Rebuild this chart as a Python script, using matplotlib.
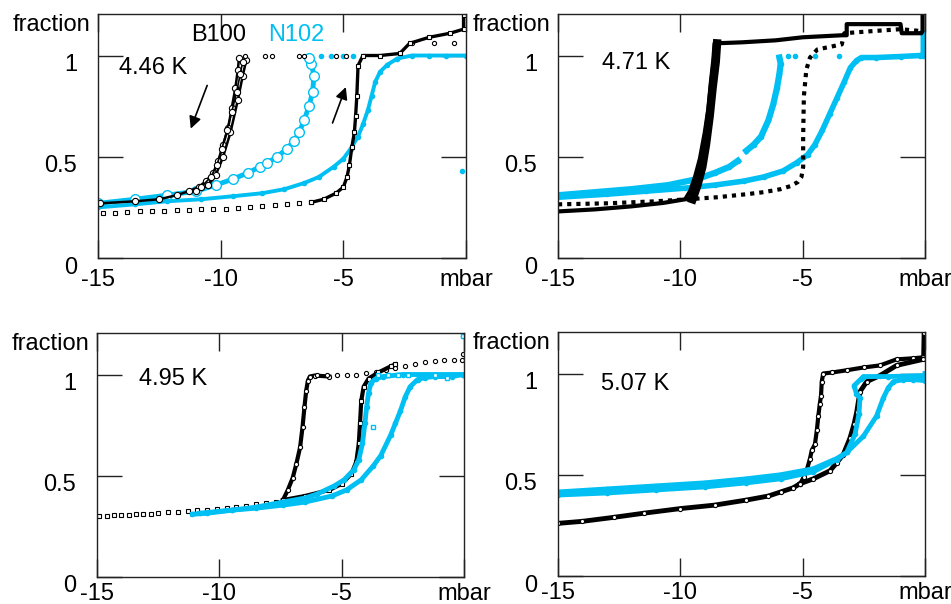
import numpy as np
import matplotlib
matplotlib.use("Agg")
import matplotlib.pyplot as plt
from matplotlib.transforms import ScaledTranslation

plt.rcParams['font.family'] = ['Liberation Sans', 'DejaVu Sans']

CYAN = '#00BFF2'
nan = np.nan

# ---------------- data ----------------
temps = ['4.46 K', '4.71 K', '4.95 K', '5.07 K']
temp_label_x = [-14.14, -13.2, -13.28, -13.24]
temp_label_y = [0.94, 0.965, 0.98, 0.95]
xticks = [-15, -10, -5, 0]
xticklabels = ['-15', '-10', '-5', 'mbar']
yticks = [0, 0.5, 1]
yticklabels = ['0', '0.5', '1']

# Panel 1: 4.46 K
p1_b_dec_x = [-14.9, -13.5, -12.5, -11.8, -11.3, -10.9, -10.6, -10.3, -10.1, -9.9, -9.7, -9.55, -9.4, -9.3, -9.25]
p1_b_dec_y = [0.27, 0.28, 0.29, 0.31, 0.33, 0.35, 0.38, 0.42, 0.48, 0.56, 0.64, 0.74, 0.84, 0.93, 0.99]
p1_b_dec2_x = [-11.0, -10.5, -10.2, -9.9, -9.6, -9.3, -9.1, -8.95]
p1_b_dec2_y = [0.33, 0.36, 0.41, 0.50, 0.62, 0.78, 0.90, 0.98]
p1_b_dec3_x = [-10.8, -10.4, -10.15, -9.95, -9.75, -9.55, -9.35, -9.2, -9.1]
p1_b_dec3_y = [0.35, 0.40, 0.46, 0.54, 0.63, 0.72, 0.82, 0.91, 0.97]
p1_b_top_x = [-9.0, -8.2, -7.9, -6.8, -6.6, -5.3, -4.9, -2.2, -1.3, -0.5]
p1_b_top_y = [1.0, 1.0, 1.0, 1.0, 1.0, 1.0, 1.0, 1.06, 1.06, 1.06]
p1_b_asc_sp_x = [-14.8, -14.3, -13.8, -13.3, -12.8, -12.3, -11.8, -11.3, -10.8, -10.3, -9.8, -9.3, -8.8, -8.3, -7.8, -7.3, -6.8, -6.3]
p1_b_asc_sp_y = [0.22, 0.22, 0.225, 0.23, 0.23, 0.23, 0.235, 0.235, 0.24, 0.24, 0.24, 0.245, 0.25, 0.255, 0.26, 0.265, 0.27, 0.275]
p1_b_asc_x = [-6.3, -5.8, -5.3, -5.0, -4.85, -4.75, -4.65, -4.55, -4.5, -4.45, -4.4, -4.2, -3.5, -2.7, -2.3, -1.5, -0.65, -0.1, -0.1]
p1_b_asc_y = [0.275, 0.29, 0.32, 0.35, 0.40, 0.46, 0.55, 0.62, 0.70, 0.80, 0.95, 1.0, 1.0, 1.01, 1.06, 1.09, 1.11, 1.13, 1.2]
p1_c_dec_x = [-15, -13.5, -12.2, -11, -10.2, -9.5, -8.9, -8.4, -8.1, -7.7, -7.3, -7.0, -6.8, -6.6, -6.4, -6.25, -6.2, -6.3, -6.4]
p1_c_dec_y = [0.27, 0.29, 0.31, 0.33, 0.36, 0.39, 0.42, 0.45, 0.47, 0.50, 0.54, 0.58, 0.62, 0.68, 0.75, 0.82, 0.90, 0.96, 0.99]
p1_c_asc_x = [-15, -13.5, -12.2, -10.8, -9.5, -8.3, -7.4, -6.6, -6.0, -5.4, -5.0, -4.7, -4.4, -4.2, -4.0, -3.85, -3.7, -3.5, -3.2, -2.8, -2.2, -1.5, -0.8, 0]
p1_c_asc_y = [0.25, 0.265, 0.28, 0.29, 0.305, 0.32, 0.34, 0.37, 0.40, 0.45, 0.49, 0.54, 0.60, 0.66, 0.73, 0.80, 0.87, 0.92, 0.955, 0.985, 1.0, 1.0, 1.0, 1.0]
p1_c_top_x = [-5.9, -5.5, -5.0, -4.6, -0.15]
p1_c_top_y = [1.0, 1.0, 1.0, 1.0, 0.43]

# Panel 2: 4.71 K
p2_b_dec_x = [-15, -13.5, -12, -10.7, -9.8, -9.6, -9.4, -9.2, -9.0, -8.85, -8.75, -8.65, -8.6, -7.5, -6.1, -5.0, -3.4, -3.2, -3.2, -1.0, -0.95, -0.15, -0.1, -0.1]
p2_b_dec_y = [0.23, 0.24, 0.255, 0.272, 0.29, 0.33, 0.40, 0.49, 0.62, 0.74, 0.87, 0.98, 1.06, 1.065, 1.075, 1.09, 1.10, 1.10, 1.155, 1.155, 1.11, 1.11, 1.12, 1.21]
p2_b_dec2_x = [-9.5, -9.3, -9.1, -8.95, -8.8, -8.68, -8.55, -8.5]
p2_b_dec2_y = [0.29, 0.36, 0.45, 0.56, 0.70, 0.84, 0.97, 1.06]
p2_b_asc_x = [-15, -13, -11, -9.7, -8.5, -7.3, -6.6, -5.9, -5.5, -5.2, -5.05, -4.98, -4.98, -4.95, -4.85, -4.7, -4.4, -3.4, -3.3, -2.2, -1.0, -0.1]
p2_b_asc_y = [0.265, 0.27, 0.28, 0.29, 0.30, 0.315, 0.325, 0.34, 0.355, 0.375, 0.40, 0.45, 0.60, 0.80, 0.93, 0.99, 1.03, 1.055, 1.11, 1.12, 1.13, 1.12]
p2_c_dec_x = [-15, -13.5, -12, -10.5, -9.3, -8.6, -8.0, -7.65, nan, -7.3, -7.0, -6.7, -6.4, -6.2, -6.05, -5.95, -5.9, -5.95]
p2_c_dec_y = [0.31, 0.325, 0.34, 0.36, 0.39, 0.42, 0.45, 0.48, nan, 0.53, 0.56, 0.60, 0.68, 0.76, 0.84, 0.91, 0.96, 0.99]
p2_c_asc_x = [-15, -13, -11.4, -9.8, -8.6, -7.4, -6.6, -5.8, -5.25, -4.8, -4.5, -4.2, -3.9, -3.6, -3.3, -3.05, -2.8, -2.6, -2.0, -1.0, -0.2, -0.07, -0.07]
p2_c_asc_y = [0.30, 0.315, 0.33, 0.345, 0.36, 0.38, 0.40, 0.43, 0.47, 0.51, 0.56, 0.63, 0.71, 0.79, 0.87, 0.94, 0.975, 0.99, 0.99, 0.995, 1.0, 1.0, 1.11]
p2_c_top_x = [-5.6, -5.3, -4.5, -3.5]
p2_c_top_y = [1.0, 1.0, 1.0, 1.0]

# Panel 3: 4.95 K
p3_b_sp_x = [-14.9, -14.6, -14.3, -14, -13.7, -13.4, -13.1, -12.8, -12.5, -12.1, -11.7, -11.3, -10.9, -10.5, -10.1, -9.7, -9.3, -8.9, -8.5, -8.1, -7.7, -7.4]
p3_b_sp_y = [0.30, 0.30, 0.305, 0.305, 0.305, 0.31, 0.31, 0.31, 0.315, 0.32, 0.32, 0.325, 0.33, 0.33, 0.335, 0.34, 0.345, 0.35, 0.36, 0.365, 0.37, 0.38]
p3_b_dec_x = [-7.4, -7.2, -7.0, -6.85, -6.7, -6.6, -6.52, -6.45, -6.38, -6.3, -6.1, -5.5]
p3_b_dec_y = [0.38, 0.43, 0.49, 0.56, 0.64, 0.74, 0.84, 0.92, 0.97, 0.99, 0.995, 0.99]
p3_b_top_x = [-6.0, -5.6, -5.2, -4.8, -4.4, -4.0, -3.6, -3.2, -2.8, -2.4, -2.0, -1.6, -1.2, -0.8, -0.4, -0.1, -0.05, -0.05]
p3_b_top_y = [1.0, 1.0, 1.0, 1.0, 1.0, 1.005, 1.01, 1.02, 1.03, 1.04, 1.05, 1.06, 1.065, 1.07, 1.07, 1.07, 1.1, 1.19]
p3_b_asc_x = [-7.4, -6.5, -5.5, -5.0, -4.6, -4.4, -4.3, -4.25, -4.2, -4.1, -3.9, -3.5, -3.0, -2.8]
p3_b_asc_y = [0.38, 0.40, 0.43, 0.46, 0.51, 0.57, 0.66, 0.76, 0.87, 0.94, 0.98, 1.01, 1.04, 1.05]
p3_c_dec_x = [-11.1, -10.5, -9.5, -8.5, -7.4, -6.5, -6.0, -5.3, -4.9, -4.5, -4.3, -4.15, -4.05, -3.98, -3.9, -3.8, -3.6, -3.3, -2.5, -1.5, -0.5, -0.03]
p3_c_dec_y = [0.31, 0.315, 0.33, 0.345, 0.37, 0.39, 0.41, 0.45, 0.48, 0.53, 0.58, 0.66, 0.76, 0.84, 0.91, 0.96, 0.98, 0.99, 1.0, 1.0, 1.0, 1.0]
p3_c_asc_x = [-10.8, -9.5, -8.5, -7.4, -6.5, -5.4, -4.8, -4.2, -3.7, -3.4, -3.0, -2.8, -2.6, -2.4, -2.2, -1.9, -1.6, -1.2, -0.5, -0.03]
p3_c_asc_y = [0.315, 0.33, 0.34, 0.355, 0.37, 0.40, 0.43, 0.48, 0.55, 0.60, 0.70, 0.76, 0.82, 0.89, 0.94, 0.975, 0.985, 0.99, 0.99, 1.0]
p3_c_top_x = [-3.5, -3.1, -2.7, -2.3, -1.2, -0.7, -3.7, -0.03]
p3_c_top_y = [1.0, 1.0, 1.0, 1.0, 1.0, 0.985, 0.74, 1.19]

# Panel 4: 5.07 K
p4_b_low_x = [-15, -14, -12.7, -11.5, -10.0, -8.6, -7.3, -6.4, -5.9, -5.4, -5.1]
p4_b_low_y = [0.26, 0.27, 0.29, 0.31, 0.333, 0.35, 0.375, 0.395, 0.415, 0.435, 0.456]
p4_b_dec_x = [-5.1, -4.95, -4.84, -4.7, -4.63, -4.5, -4.42, -4.36, -4.3, -4.25, -4.22, -4.16, -3.8, -3.2, -2.5, -1.84, -1.16, -0.5, -0.07, -0.05]
p4_b_dec_y = [0.456, 0.49, 0.52, 0.58, 0.62, 0.65, 0.72, 0.79, 0.85, 0.89, 0.96, 1.0, 1.005, 1.016, 1.03, 1.04, 1.07, 1.075, 1.08, 1.2]
p4_b_asc_x = [-5.1, -4.56, -3.88, -3.6, -3.34, -3.07, -2.9, -2.79, -2.66, -2.38, -1.84, -1.16, -0.07]
p4_b_asc_y = [0.456, 0.48, 0.52, 0.56, 0.60, 0.68, 0.75, 0.81, 0.91, 0.96, 0.99, 1.04, 1.07]
p4_c_dec_x = [-15, -13, -11, -9, -7.3, -5.9, -4.56, -3.61, -3.2, -2.86, -2.7, -2.66, -2.8, -2.9, -2.6, -2.52, -1.5, 0]
p4_c_dec_y = [0.415, 0.43, 0.445, 0.46, 0.48, 0.50, 0.53, 0.58, 0.61, 0.70, 0.80, 0.88, 0.90, 0.94, 0.975, 0.985, 0.985, 0.99]
p4_c_asc_x = [-15, -13, -11, -9, -7.3, -5.9, -4.56, -3.61, -3.2, -2.52, -1.98, -1.7, -1.5, -1.29, -0.9, -0.48, 0, 0]
p4_c_asc_y = [0.40, 0.41, 0.425, 0.44, 0.46, 0.48, 0.515, 0.575, 0.61, 0.69, 0.79, 0.88, 0.93, 0.96, 0.97, 0.97, 0.965, 1.0]

# ---------------- figure ----------------
fig = plt.figure(figsize=(9.51, 6.04), dpi=100)
W, H = 951, 604
boxes = [(98, 14, 368, 244), (558, 14, 367, 244), (97, 333, 367, 244), (558, 332, 367, 244)]
axes = [fig.add_axes([l / W, 1 - (t + h) / H, w / W, h / H]) for (l, t, w, h) in boxes]
xpads = [8, 8, 4.5, 4.5]

FS = 17

def bcirc(ax, x, y, lw=1.2, ms=3.5, ls='-'):
    ax.plot(x, y, color='black', lw=lw, ls=ls, marker='o', ms=ms, mfc='white', mec='black', mew=0.8)

def bsq(ax, x, y, lw=0, ms=3.5, ls='-'):
    ax.plot(x, y, color='black', lw=lw, ls=ls, marker='s', ms=ms, mfc='white', mec='black', mew=0.8)

def cline(ax, x, y, lw=2.5, marker='o', ms=3, mfc=CYAN):
    ax.plot(x, y, color=CYAN, lw=lw, marker=marker, ms=ms, mfc=mfc, mec=CYAN, mew=1.0)

# panel 1
ax = axes[0]
cline(ax, p1_c_dec_x, p1_c_dec_y, lw=3.5, marker='o', ms=7, mfc='white')
cline(ax, p1_c_asc_x, p1_c_asc_y, lw=2.8)
ax.plot(p1_c_top_x, p1_c_top_y, ls='none', marker='o', ms=3, color=CYAN)
bcirc(ax, p1_b_dec_x, p1_b_dec_y, lw=1.8, ms=4.5)
bcirc(ax, p1_b_dec2_x, p1_b_dec2_y, lw=1.8, ms=4.5)
bcirc(ax, p1_b_dec3_x, p1_b_dec3_y, lw=1.2, ms=4.5)
bcirc(ax, p1_b_top_x, p1_b_top_y, lw=0, ms=3)
bsq(ax, p1_b_asc_sp_x, p1_b_asc_sp_y, lw=0)
bsq(ax, p1_b_asc_x, p1_b_asc_y, lw=2.4)
ax.text(-11.2, 1.10, 'B100', color='black', fontsize=FS, ha='left', va='center')
ax.text(-8.05, 1.10, 'N102', color=CYAN, fontsize=FS, ha='left', va='center')
ax.annotate('', xy=(-11.26, 0.626), xytext=(-10.51, 0.865),
            arrowprops=dict(arrowstyle='-|>', color='black', lw=1.2, mutation_scale=18))
ax.annotate('', xy=(-4.86, 0.857), xytext=(-5.48, 0.654),
            arrowprops=dict(arrowstyle='-|>', color='black', lw=1.2, mutation_scale=18))

# panel 2
ax = axes[1]
cline(ax, p2_c_dec_x, p2_c_dec_y, lw=4.5)
cline(ax, p2_c_asc_x, p2_c_asc_y, lw=4)
ax.plot(p2_c_top_x, p2_c_top_y, ls='none', marker='o', ms=3, color=CYAN)
ax.plot(p2_b_dec_x, p2_b_dec_y, color='black', lw=3)
ax.plot(p2_b_dec2_x, p2_b_dec2_y, color='black', lw=6)
ax.plot(p2_b_asc_x, p2_b_asc_y, color='black', lw=3, ls=(0, (1, 1.2)))

# panel 3
ax = axes[2]
bsq(ax, p3_b_sp_x, p3_b_sp_y, lw=0, ms=3.5)
bcirc(ax, p3_b_dec_x, p3_b_dec_y, lw=3, ms=3)
bcirc(ax, p3_b_top_x, p3_b_top_y, lw=0, ms=3)
bsq(ax, p3_b_asc_x, p3_b_asc_y, lw=3, ms=2.5)
cline(ax, p3_c_dec_x, p3_c_dec_y, lw=3.5)
cline(ax, p3_c_asc_x, p3_c_asc_y, lw=3.5)
ax.plot(p3_c_top_x, p3_c_top_y, ls='none', marker='s', ms=3.5, mfc='white', mec=CYAN, mew=1)

# panel 4
ax = axes[3]
bcirc(ax, p4_b_low_x, p4_b_low_y, lw=3.5, ms=3)
bcirc(ax, p4_b_dec_x, p4_b_dec_y, lw=3, ms=3)
bcirc(ax, p4_b_asc_x, p4_b_asc_y, lw=3.5, ms=3)
cline(ax, p4_c_dec_x, p4_c_dec_y, lw=3.5)
cline(ax, p4_c_asc_x, p4_c_asc_y, lw=3.5)

# ---------------- axes styling ----------------
for i, ax in enumerate(axes):
    ax.set_xlim(-15, 0)
    ax.set_ylim(0, 1.205)
    ax.set_xticks(xticks)
    ax.set_xticklabels(xticklabels)
    ax.set_yticks(yticks)
    ax.set_yticklabels(yticklabels)
    ax.tick_params(axis='x', direction='in', length=13, width=1, top=True, bottom=True,
                   labelsize=FS, pad=xpads[i], color='#222222')
    ax.tick_params(axis='y', direction='in', length=18, width=1, left=True, right=True,
                   labelsize=FS, pad=15, color='#222222')
    for sp in ax.spines.values():
        sp.set_color('#222222')
        sp.set_linewidth(1)
    off = ScaledTranslation(0, -7 / 100, fig.dpi_scale_trans)
    for lab in ax.get_yticklabels():
        lab.set_transform(lab.get_transform() + off)
    ax.text(-0.022, 0.955, 'fraction', transform=ax.transAxes, ha='right', va='center', fontsize=FS)
    ax.text(temp_label_x[i], temp_label_y[i], temps[i], fontsize=FS, ha='left', va='center')

fig.savefig('out.png', dpi=100)
